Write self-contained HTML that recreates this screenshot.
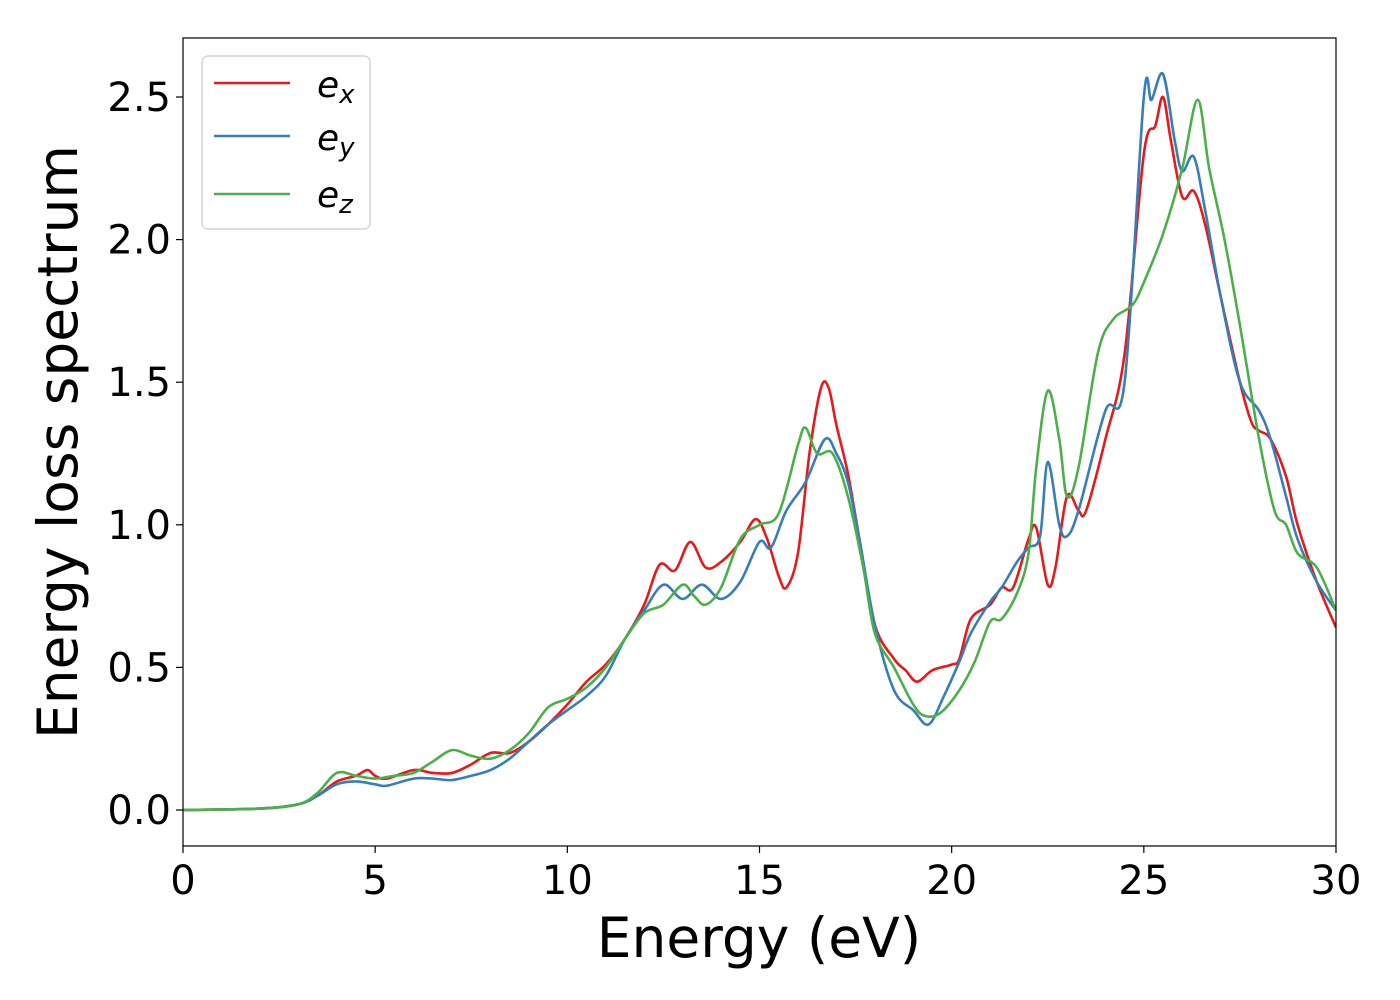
<!DOCTYPE html>
<html><head><meta charset="utf-8"><style>body{margin:0;background:#fff}svg{display:block}text{font-family:"DejaVu Sans","Liberation Sans",sans-serif;fill:#000}</style></head>
<body>
<svg id="chart" width="1400" height="1000" xmlns="http://www.w3.org/2000/svg">
<g id="plot"></g>
<g id="axes"></g>
</svg>
<script>
const xTicks=[0,5,10,15,20,25,30];
const yTicks=[0.0,0.5,1.0,1.5,2.0,2.5];
const yTickLabels=["0.0","0.5","1.0","1.5","2.0","2.5"];
const exE=[0,2,3,3.5,4,4.5,4.8,5,5.3,6,6.5,7,7.5,8,8.5,9,9.5,10,10.5,11,11.5,12,12.4,12.8,13.2,13.6,14,14.5,14.9,15.2,15.5,15.7,16,16.3,16.6,16.8,17,17.3,17.6,18,18.5,18.8,19.1,19.5,20,20.2,20.5,21,21.3,21.6,22,22.2,22.5,22.7,23,23.3,23.5,24,24.5,25,25.3,25.5,25.7,26,26.3,26.6,27,27.5,27.8,28,28.3,28.7,29,29.5,30];
const exV=[0,0.005,0.02,0.05,0.1,0.12,0.14,0.12,0.11,0.14,0.13,0.13,0.16,0.2,0.2,0.24,0.3,0.37,0.45,0.51,0.6,0.72,0.86,0.84,0.94,0.85,0.87,0.94,1.02,0.95,0.82,0.78,0.9,1.25,1.48,1.48,1.35,1.18,0.95,0.65,0.53,0.49,0.45,0.49,0.51,0.53,0.67,0.72,0.78,0.78,0.95,0.99,0.79,0.85,1.1,1.05,1.05,1.3,1.6,2.3,2.4,2.5,2.35,2.15,2.17,2.05,1.8,1.5,1.36,1.33,1.3,1.17,1.0,0.8,0.64];
const eyE=[0,2,3,3.5,4,4.5,5,5.3,6,6.5,7,7.5,8,8.5,9,9.5,10,10.5,11,11.5,12,12.5,13,13.5,14,14.5,15,15.3,15.7,16.2,16.7,17,17.3,17.6,18,18.5,19,19.4,19.8,20.2,20.5,21,21.3,21.7,22,22.3,22.5,22.8,23,23.3,24,24.5,25,25.2,25.5,25.8,26,26.3,26.6,27,27.5,28,28.3,28.7,29,29.5,30];
const eyV=[0,0.005,0.02,0.05,0.09,0.1,0.09,0.085,0.11,0.11,0.105,0.12,0.14,0.18,0.24,0.3,0.35,0.4,0.47,0.6,0.7,0.79,0.74,0.79,0.74,0.8,0.94,0.92,1.05,1.15,1.3,1.25,1.15,0.95,0.65,0.42,0.35,0.3,0.4,0.52,0.62,0.73,0.78,0.87,0.92,0.96,1.22,1.0,0.96,1.05,1.4,1.5,2.5,2.49,2.58,2.35,2.24,2.29,2.1,1.8,1.5,1.4,1.3,1.1,0.95,0.8,0.7];
const ezE=[0,2,3,3.5,4,4.5,5,5.5,6,6.5,7,7.5,8,8.5,9,9.5,10,10.5,11,11.5,12,12.5,13,13.3,13.6,14,14.5,15,15.5,16,16.2,16.5,16.9,17.3,17.7,18,18.5,19,19.3,19.7,20.2,20.6,21,21.3,21.7,22,22.2,22.5,22.8,23,23.3,23.8,24.2,24.7,25,25.5,26,26.4,26.7,27.1,27.5,28,28.4,28.7,29,29.5,30];
const ezV=[0,0.005,0.02,0.06,0.13,0.12,0.11,0.12,0.13,0.17,0.21,0.19,0.18,0.21,0.27,0.36,0.39,0.43,0.5,0.6,0.69,0.72,0.79,0.75,0.72,0.78,0.95,1.0,1.04,1.28,1.34,1.25,1.25,1.1,0.85,0.62,0.5,0.37,0.33,0.34,0.42,0.52,0.66,0.67,0.76,0.9,1.2,1.47,1.3,1.1,1.2,1.6,1.72,1.77,1.85,2.02,2.25,2.49,2.25,2.0,1.7,1.3,1.05,1.0,0.9,0.85,0.7];
const L=183,R=1336,T=38,B=846;
const X=v=>L+(v/30)*(R-L);
const Y=v=>810-v*285.2;
const NS="http://www.w3.org/2000/svg";
function mk(t,a,p){const e=document.createElementNS(NS,t);for(const k in a)e.setAttribute(k,a[k]);p.appendChild(e);return e;}
const plot=document.getElementById('plot'),axes=document.getElementById('axes');
function pathD(xs,vs){const p=xs.map((x,i)=>[X(x),Y(vs[i])]);let d=`M${p[0][0]},${p[0][1]}`;
for(let i=0;i<p.length-1;i++){const p0=p[i-1]||p[i],p1=p[i],p2=p[i+1],p3=p[i+2]||p2;
d+=` C${p1[0]+(p2[0]-p0[0])/6},${p1[1]+(p2[1]-p0[1])/6} ${p2[0]-(p3[0]-p1[0])/6},${p2[1]-(p3[1]-p1[1])/6} ${p2[0]},${p2[1]}`;}return d;}
const clip=mk('clipPath',{id:'cp'},mk('defs',{},plot));mk('rect',{x:L,y:T,width:R-L,height:B-T},clip);
const series=[[exE,exV,'#e41a1c','series-ex'],[eyE,eyV,'#377eb8','series-ey'],[ezE,ezV,'#4daf4a','series-ez']];
series.forEach(s=>{const e=mk('path',{d:pathD(s[0],s[1]),fill:'none',stroke:s[2],'stroke-width':2.6,'clip-path':'url(#cp)'},plot);

});
const fr=mk('rect',{x:L,y:T,width:R-L,height:B-T,fill:'none',stroke:'#000','stroke-width':1.2},axes);


xTicks.forEach(v=>{mk('line',{x1:X(v),x2:X(v),y1:B,y2:B+7,stroke:'#000','stroke-width':1.2},axes);
const t=mk('text',{x:X(v),y:B+48,'font-size':40,'text-anchor':'middle'},axes);t.textContent=v;

});
yTicks.forEach((v,i)=>{mk('line',{x1:L-7,x2:L,y1:Y(v),y2:Y(v),stroke:'#000','stroke-width':1.2},axes);
const t=mk('text',{x:L-12,y:Y(v)+14,'font-size':40,'text-anchor':'end'},axes);t.textContent=yTickLabels[i];

});
</script>
<svg style="position:absolute;left:0;top:0" width="1400" height="1000" xmlns="http://www.w3.org/2000/svg">
<text x="759" y="957" font-size="55" text-anchor="middle">Energy (eV)</text>
<text transform="translate(77,442) rotate(-90)" font-size="55" text-anchor="middle">Energy loss spectrum</text>
<g>
<rect x="202" y="56" width="168" height="173" rx="6" fill="#fff" fill-opacity="0.8" stroke="#ccc" stroke-width="1.2"/>
<line x1="214" x2="290" y1="83" y2="83" stroke="#e41a1c" stroke-width="2.6"/>
<line x1="214" x2="290" y1="136" y2="136" stroke="#377eb8" stroke-width="2.6"/>
<line x1="214" x2="290" y1="194" y2="194" stroke="#4daf4a" stroke-width="2.6"/>
<text x="317" y="97" font-size="36" font-style="italic">e<tspan font-size="26" dy="6">x</tspan></text>
<text x="317" y="150" font-size="36" font-style="italic">e<tspan font-size="26" dy="6">y</tspan></text>
<text x="317" y="207" font-size="36" font-style="italic">e<tspan font-size="26" dy="6">z</tspan></text>
</g>
</svg>
</body></html>
